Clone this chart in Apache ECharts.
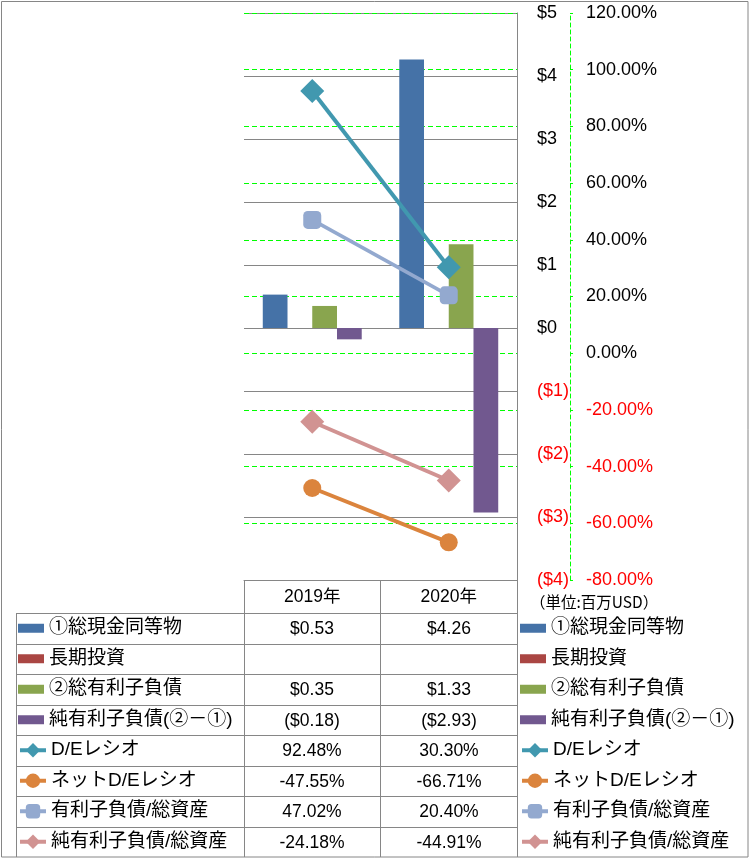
<!DOCTYPE html>
<html><head><meta charset="utf-8">
<script src="https://cdn.jsdelivr.net/npm/echarts@6/dist/echarts.min.js"></script>
<style>html,body{margin:0;padding:0;background:#fff}#c{width:749px;height:858px}</style>
</head><body><div id="c"></div>
<script>
// ---- data ----
const years = ['2019年', '2020年'];
const barNames = ['①総現金同等物', '長期投資', '②総有利子負債', '純有利子負債(②－①)'];
const cashEq = [0.53, 4.26];
const longInv = [null, null];
const intDebt = [0.35, 1.33];
const netDebt = [-0.18, -2.93];
const lineNames = ['D/Eレシオ', 'ネットD/Eレシオ', '有利子負債/総資産', '純有利子負債/総資産'];
const deRatio = [92.48, 30.30];
const netDeRatio = [-47.55, -66.71];
const debtAssets = [47.02, 20.40];
const netDebtAssets = [-24.18, -44.91];
const usdAxis = { min: -4, max: 5, interval: 1 };
const pctAxis = { min: -80, max: 120, interval: 20 };
const unitNote = '（単位:百万USD）';

// ---- styles ----
const FONT = '"Liberation Sans", "Noto Sans CJK JP", sans-serif';
const GRAY = '#868686';
const GREEN = '#00ff00';
const barColors = ['#4572A7', '#AA4643', '#89A54E', '#71588F'];
const lineColors = ['#4198AF', '#DB843D', '#93A9CF', '#D19392'];
const lineSymbols = ['diamond', 'circle', 'roundRect', 'diamond'];
const lineSymbolSizes = [24, 18, 18, 24];
const lineWidths = [4, 4, 3.5, 4];

const barData = [cashEq, longInv, intDebt, netDebt];
const lineData = [deRatio, netDeRatio, debtAssets, netDebtAssets];

const series = [];
barData.forEach((d, i) => series.push({
  name: barNames[i], type: 'bar', yAxisIndex: 0, xAxisIndex: 0, data: d,
  barGap: '0%', barCategoryGap: '27.5%', itemStyle: { color: barColors[i] }, z: 2
}));
lineData.forEach((d, i) => series.push({
  name: lineNames[i], type: 'line', yAxisIndex: 1, data: d,
  symbol: lineSymbols[i], symbolSize: lineSymbolSizes[i], showSymbol: true,
  lineStyle: { color: lineColors[i], width: lineWidths[i] },
  itemStyle: { color: lineColors[i] }, z: 5
}));

const fmtUsd = v => v == null ? '' : (v < 0 ? '($' + Math.abs(v).toFixed(2) + ')' : '$' + v.toFixed(2));
const fmtPct = v => v == null ? '' : v.toFixed(2) + '%';

// table layout
const tableTop = 613, rowH = 30.5, tableLeft = 16, tableRight = 517, tableBottom = 857;
const colX = [312, 449];

const graphics = [];
// outer border
graphics.push({ type: 'rect', shape: { x: 1.5, y: 1.5, width: 746.5, height: 855.5 }, style: { fill: null, stroke: GRAY, lineWidth: 1 }, silent: true });
// table horizontal lines
for (let i = 0; i < 8; i++) {
  const y = Math.round(tableTop + rowH * i) + 0.5;
  graphics.push({ type: 'line', shape: { x1: tableLeft, y1: y, x2: tableRight + 1, y2: y }, style: { stroke: GRAY, lineWidth: 1 }, silent: true });
}
graphics.push({ type: 'line', shape: { x1: tableLeft + 0.5, y1: tableTop, x2: tableLeft + 0.5, y2: tableBottom }, style: { stroke: GRAY, lineWidth: 1 }, silent: true });
// table values
const allRows = barData.map(d => d.map(fmtUsd)).concat(lineData.map(d => d.map(fmtPct)));
allRows.forEach((row, r) => {
  row.forEach((txt, c) => {
    graphics.push({ type: 'text', x: colX[c], y: tableTop + rowH * r + rowH / 2 + 1, silent: true,
      style: { text: txt, fill: '#000', font: '17.5px ' + FONT, textAlign: 'center', textVerticalAlign: 'middle' } });
  });
});
graphics.push({ type: 'text', x: 530, y: 602, silent: true,
  style: { text: unitNote, fill: '#000', font: '15.5px "Noto Sans CJK JP"', textAlign: 'left', textVerticalAlign: 'middle' } });

function legendBlock(left, top, names, itemH, isBar) {
  const o = {
    left: left, top: top, orient: 'vertical', data: names, itemWidth: 26, itemHeight: itemH, itemGap: 10.5,
    padding: 0, selectedMode: false,
    textStyle: { fontSize: 19, lineHeight: 20, color: '#000', fontFamily: FONT }
  };
  if (isBar) o.icon = 'rect'; else o.lineStyle = { width: 4 };
  return o;
}
const barTop = tableTop + rowH / 2 - 10;
const lineTop = tableTop + rowH * 4 + rowH / 2 - 10;

const option = {
  animation: false,
  backgroundColor: '#fff',
  textStyle: { fontFamily: FONT },
  grid: { left: 244, right: 232, top: 13, bottom: 278, containLabel: false },
  legend: [
    legendBlock(18, barTop, barNames, 9, true),
    legendBlock(18, lineTop, lineNames, 18, false),
    legendBlock(520, barTop, barNames, 9, true),
    legendBlock(520, lineTop, lineNames, 18, false)
  ],
  xAxis: {
    type: 'category', data: years, position: 'bottom',
    axisLine: { show: true, onZero: false, lineStyle: { color: GRAY, width: 1 } },
    axisTick: { show: true, length: tableBottom - 580, lineStyle: { color: GRAY, width: 1 } },
    axisLabel: { show: true, margin: 8, fontSize: 17.5, color: '#000', fontFamily: FONT },
    splitLine: { show: false }
  },
  yAxis: [
    {
      type: 'value', position: 'right', min: usdAxis.min, max: usdAxis.max, interval: usdAxis.interval,
      axisLine: { show: true, lineStyle: { color: GRAY, width: 1 } },
      axisTick: { show: false },
      axisLabel: { margin: 20, fontSize: 18, fontFamily: FONT,
        formatter: v => v < 0 ? '($' + (-v) + ')' : '$' + v,
        color: v => Number(v) < 0 ? '#ff0000' : '#000' },
      splitLine: { show: true, lineStyle: { color: GRAY, width: 1 } }
    },
    {
      type: 'value', position: 'right', offset: 53, min: pctAxis.min, max: pctAxis.max, interval: pctAxis.interval,
      axisLine: { show: true, lineStyle: { color: GREEN, width: 1, type: [4, 3] } },
      axisTick: { show: true, length: 3, lineStyle: { color: GREEN, width: 1 } },
      axisLabel: { margin: 16, fontSize: 18, fontFamily: FONT,
        formatter: v => Number(v).toFixed(2) + '%',
        color: v => Number(v) < 0 ? '#ff0000' : '#000' },
      splitLine: { show: true, lineStyle: { color: GREEN, width: 1, type: [5, 3] } }
    }
  ],
  series: series,
  graphic: { elements: graphics }
};
const chart = echarts.init(document.getElementById('c'), null, { renderer: 'canvas' });
chart.setOption(option);
</script>
</body></html>
